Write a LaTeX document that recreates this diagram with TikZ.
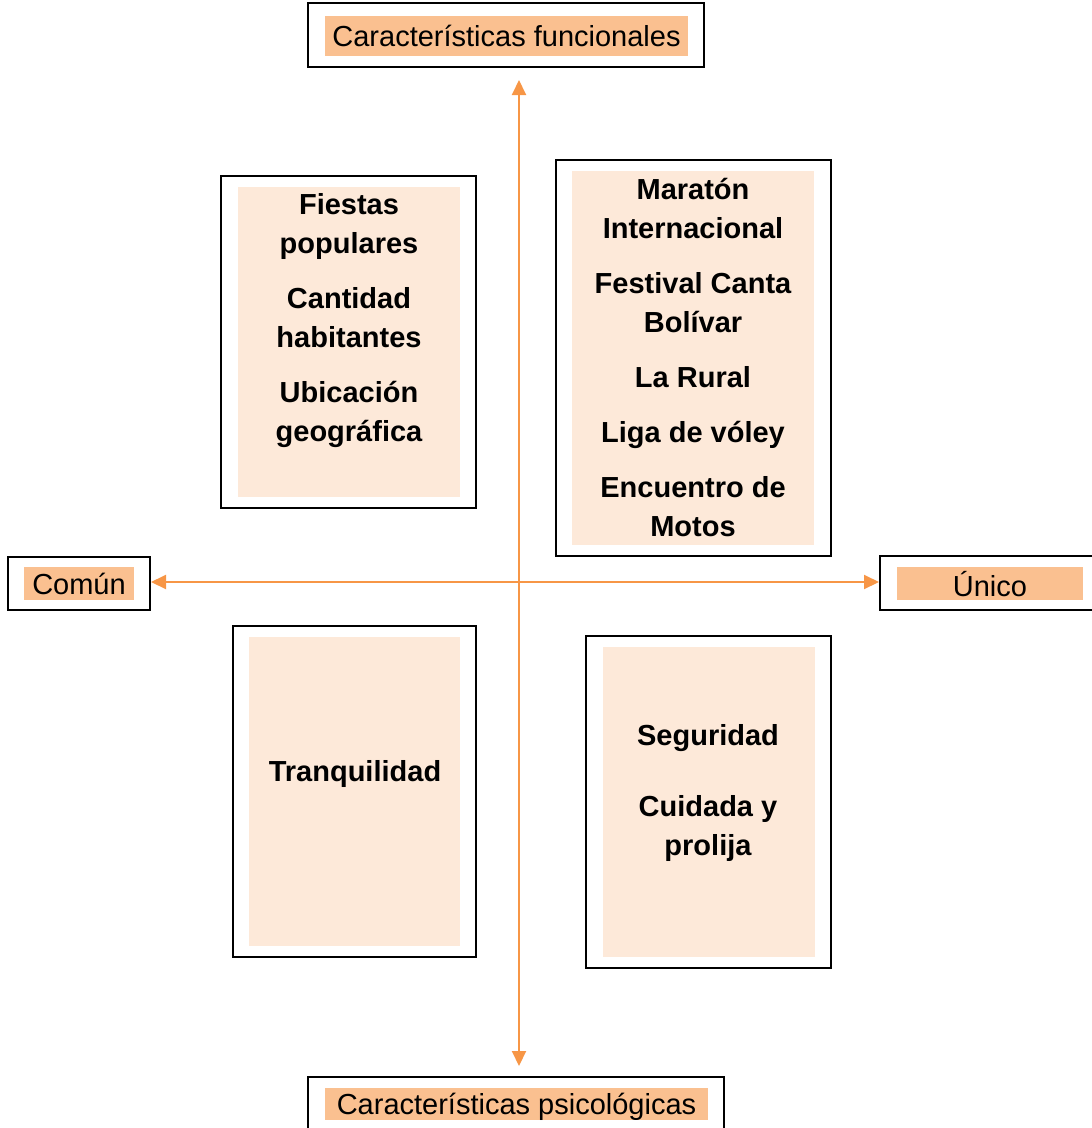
\documentclass[tikz,border=0pt]{standalone}
\usepackage{fontspec}
\setmainfont{Liberation Sans}
\usetikzlibrary{arrows.meta,calc}
\definecolor{axisor}{HTML}{F79646}
\definecolor{labfill}{HTML}{FAC090}
\definecolor{boxfill}{HTML}{FDE9D9}
\begin{document}
\begin{tikzpicture}[x=1pt,y=-1pt,
  frame/.style={draw=black,line width=2pt,fill=white,inner sep=0pt,outer sep=0pt},
  lab/.style={fill=labfill,inner sep=0pt,font=\fontsize{29}{35}\selectfont,text=black,text depth=0pt},
  inbox/.style={fill=boxfill,inner sep=0pt,outer sep=0pt},
  qtext/.style={align=center,font=\fontsize{29}{39}\selectfont\bfseries,inner sep=0pt},
  axis/.style={draw=axisor,line width=2pt,{Triangle[length=15pt,width=14pt]}-{Triangle[length=15pt,width=14pt]}}]
\useasboundingbox (0,0) rectangle (1092,1128);
\clip (0,0) rectangle (1092,1128);
% axis labels
\node[frame,minimum width=396pt,minimum height=64pt] (fun) at (506,35) {};
\node[lab,minimum width=363pt,minimum height=40pt] (funl) at (506.5,36) {Características funcionales};
\node[frame,minimum width=142pt,minimum height=53pt] (com) at (79,583.5) {};
\node[lab,minimum width=110pt,minimum height=33pt] (coml) at (79,583.5) {Común};
\node[frame,minimum width=220pt,minimum height=54pt] (uni) at (990,583) {};
\node[lab,minimum width=186pt,minimum height=33pt] (unil) at (990,583.5) {Único};
\node[frame,minimum width=416pt,minimum height=64pt] (psi) at (516,1109) {};
\node[lab,minimum width=383pt,minimum height=32pt] (psil) at (516.5,1104) {Características psicológicas};
% axes
\coordinate (o) at (519,582);
\draw[axis,shorten <=13pt,shorten >=11pt] (fun.south -| o) -- (psi.north -| o);
\draw[axis,shorten <=1pt,shorten >=1pt] (com.east |- o) -- (uni.west |- o);
% quadrant boxes
\node[frame,minimum width=255pt,minimum height=332pt] (tl) at (348.5,342) {};
\node[inbox,minimum width=222pt,minimum height=310pt] (tli) at (349,342) {};
\node[qtext] (tlt) at (349,321) {Fiestas\\populares\\[16pt]Cantidad\\habitantes\\[16pt]Ubicación\\geográfica};
\node[frame,minimum width=275pt,minimum height=396pt] (tr) at (693.5,358) {};
\node[inbox,minimum width=242pt,minimum height=374pt] (tri) at (693,358) {};
\node[qtext] (trt) at (693,357.5) {Maratón\\Internacional\\[16pt]Festival Canta\\Bolívar\\[16pt]La Rural\\[16pt]Liga de vóley\\[16pt]Encuentro de\\Motos};
\node[frame,minimum width=243pt,minimum height=331pt] (bl) at (354.5,791.5) {};
\node[inbox,minimum width=211pt,minimum height=309pt] (bli) at (354.5,791.5) {};
\node[qtext] (blt) at (355,774) {Tranquilidad};
\node[frame,minimum width=245pt,minimum height=332pt] (br) at (708.5,802) {};
\node[inbox,minimum width=212pt,minimum height=310pt] (bri) at (709,802) {};
\node[qtext] (brt) at (708,793) {Seguridad\\[32pt]Cuidada y\\prolija};
\end{tikzpicture}
\end{document}
